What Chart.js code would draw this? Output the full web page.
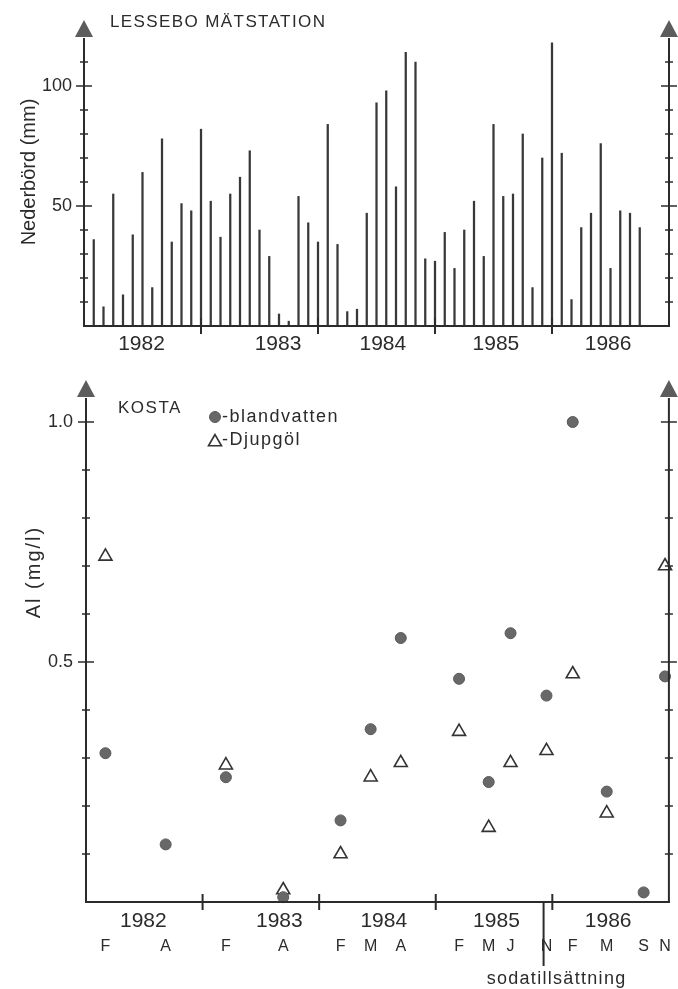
<!DOCTYPE html>
<html lang="sv">
<head>
<meta charset="utf-8">
<title>Lessebo nederbörd / Kosta Al</title>
<script src="https://cdn.jsdelivr.net/npm/chart.js@4.4.1/dist/chart.umd.min.js"></script>
<style>
  html, body { margin: 0; padding: 0; background: #fff; }
  #wrap { position: relative; width: 678px; height: 989px; }
  canvas { position: absolute; left: 0; }
  #rainChart { top: 0; }
  #alChart { top: 360px; }
</style>
</head>
<body>
<div id="wrap">
  <canvas id="rainChart" width="678" height="360"></canvas>
  <canvas id="alChart" width="678" height="629"></canvas>
</div>
<script>
// --- Data ---
const years = ['1982', '1983', '1984', '1985', '1986'];

// Monthly precipitation at Lessebo (mm), Jan 1982 - Sep 1986
const rain1982 = [36, 8, 55, 13, 38, 64, 16, 78, 35, 51, 48, 82];
const rain1983 = [52, 37, 55, 62, 73, 40, 29, 5, 2, 54, 43, 35];
const rain1984 = [84, 34, 6, 7, 47, 93, 98, 58, 114, 110, 28, 27];
const rain1985 = [39, 24, 40, 52, 29, 84, 54, 55, 80, 16, 70, 118];
const rain1986 = [72, 11, 41, 47, 76, 24, 48, 47, 41];

// Kosta samples, time in months counted from Jan 1982
const sampleMonths = [2.0, 8.2, 14.4, 20.3, 26.2, 29.3, 32.4, 38.4, 41.45, 43.7, 47.4, 50.1, 53.6, 57.4, 59.6];
const sampleLabels = ['F', 'A', 'F', 'A', 'F', 'M', 'A', 'F', 'M', 'J', 'N', 'F', 'M', 'S', 'N'];
const blandvatten = [0.31, 0.12, 0.26, 0.01, 0.17, 0.36, 0.55, 0.465, 0.25, 0.56, 0.43, 1.0, 0.23, 0.02, 0.47];
const djupgol = [0.72, null, 0.285, 0.025, 0.10, 0.26, 0.29, 0.355, 0.155, 0.29, 0.315, 0.475, 0.185, null, 0.70];

const sodaMonth = 47.1; // sodatillsättning (early Dec 1985)

// --- Axis layout ---
const yearEnds = [12, 24, 36, 48];
const yearLabelAt = [5.9, 19.9, 30.65, 42.25, 53.75];

const ink = '#2b2b2b';
const fontFamily = '"Liberation Sans", Arial, Helvetica, sans-serif';
Chart.defaults.font.family = fontFamily;
Chart.defaults.color = ink;

// --- Drawing helpers ---
function stroke(ctx, x1, y1, x2, y2) {
    ctx.beginPath();
    ctx.moveTo(x1, y1);
    ctx.lineTo(x2, y2);
    ctx.stroke();
}

function text(ctx, str, x, y, opts = {}) {
    const { size = 17, spacing = 0, align = 'left', rotate = false } = opts;
    ctx.save();
    ctx.font = `${size}px ${fontFamily}`;
    ctx.letterSpacing = spacing + 'px';
    ctx.textAlign = align;
    ctx.textBaseline = 'middle';
    ctx.fillStyle = ink;
    ctx.translate(x, y);
    if (rotate) ctx.rotate(-Math.PI / 2);
    ctx.fillText(str, 0, 0);
    ctx.restore();
}

function marker(ctx, style, x, y, r, fill, line, width) {
    ctx.save();
    ctx.fillStyle = fill;
    ctx.strokeStyle = line;
    ctx.lineWidth = width;
    ctx.beginPath();
    if (style === 'triangle') {
        ctx.moveTo(x, y - r);
        ctx.lineTo(x - r * 0.866, y + r / 2);
        ctx.lineTo(x + r * 0.866, y + r / 2);
        ctx.closePath();
    } else {
        ctx.arc(x, y, r, 0, Math.PI * 2);
    }
    ctx.fill();
    ctx.stroke();
    ctx.restore();
}

// Axes with arrow heads, crossing tick marks and year boundaries
function drawFrame(chart) {
    const { ctx, chartArea: a, scales: { x, y } } = chart;
    ctx.save();
    ctx.strokeStyle = ink;
    ctx.fillStyle = '#5c5c5c';
    ctx.lineWidth = 2;
    stroke(ctx, a.left - 1, a.bottom, a.right + 1, a.bottom);
    for (const px of [a.left, a.right]) {
        ctx.lineWidth = 2;
        stroke(ctx, px, a.bottom + 1, px, a.top);
        ctx.beginPath();
        ctx.moveTo(px, a.top - 18);
        ctx.lineTo(px - 9, a.top - 1);
        ctx.lineTo(px + 9, a.top - 1);
        ctx.closePath();
        ctx.fill();
        ctx.lineWidth = 1.5;
        y.ticks.forEach(t => {
            if (t.value <= 0 || t.value >= y.max - 1e-9) return;
            const py = y.getPixelForValue(t.value);
            const len = t.label !== '' ? 8 : 4;
            stroke(ctx, px - len, py, px + len, py);
        });
    }
    ctx.lineWidth = 2;
    yearEnds.forEach(m => {
        const px = x.getPixelForValue(m);
        stroke(ctx, px, a.bottom - 8, px, a.bottom + 8);
    });
    ctx.restore();
}

// fixed axis sizes, no automatic label padding
const fixSize = (w, h) => (s) => {
    if (w !== null) s.width = w;
    if (h !== null) s.height = h;
    s.paddingLeft = s.paddingRight = s.paddingTop = s.paddingBottom = 0;
};

const noGrid = { display: false, drawTicks: false };
const noBorder = { display: false };

// --- Plugins ---
const rainDecor = {
    id: 'rainDecor',
    afterDraw(chart) {
        drawFrame(chart);
        const ctx = chart.ctx;
        text(ctx, 'LESSEBO MÄTSTATION', 110, 22, { size: 17, spacing: 1.4 });
        text(ctx, 'Nederbörd (mm)', 29, 172, { size: 20, align: 'center', rotate: true });
    }
};

const alDecor = {
    id: 'alDecor',
    afterDraw(chart) {
        drawFrame(chart);
        const { ctx, chartArea: a, scales: { x } } = chart;
        text(ctx, 'Al (mg/l)', 34, 212, { size: 20, spacing: 2, align: 'center', rotate: true });
        text(ctx, 'KOSTA', 118, 48, { size: 17, spacing: 1.5 });

        // legend
        chart.data.datasets.forEach((ds, i) => {
            const cy = 57 + i * 23;
            const dy = ds.pointStyle === 'triangle' ? 2 : 0;
            marker(ctx, ds.pointStyle, 215, cy + dy, ds.pointRadius,
                ds.pointBackgroundColor, ds.pointBorderColor, ds.pointBorderWidth);
            text(ctx, '-' + ds.label, 222, cy, { size: 18, spacing: 1.5 });
        });

        // soda addition marker below the time axis
        const sx = x.getPixelForValue(sodaMonth);
        ctx.save();
        ctx.strokeStyle = ink;
        ctx.lineWidth = 2;
        stroke(ctx, sx, a.bottom, sx, a.bottom + 64);
        ctx.restore();
        text(ctx, 'sodatillsättning', sx + 13, a.bottom + 77, { size: 18, spacing: 1.3, align: 'center' });
    }
};

// --- Precipitation chart ---
const rainData = [rain1982, rain1983, rain1984, rain1985, rain1986]
    .flat()
    .map((v, i) => ({ x: i + 1, y: v })); // bars stand at the end of each month

new Chart(document.getElementById('rainChart'), {
    type: 'bar',
    data: {
        datasets: [{
            label: 'Nederbörd (mm)',
            data: rainData,
            backgroundColor: '#383838',
            borderWidth: 0,
            barThickness: 1.6
        }]
    },
    options: {
        responsive: false,
        animation: false,
        devicePixelRatio: 1,
        events: [],
        layout: { padding: { top: 38, right: 9, bottom: 0, left: 0 } },
        plugins: { legend: { display: false }, tooltip: { enabled: false } },
        scales: {
            x: {
                type: 'linear', min: 0, max: 60, offset: false,
                grid: noGrid, border: noBorder,
                afterBuildTicks: (s) => { s.ticks = yearLabelAt.map(v => ({ value: v })); },
                afterFit: fixSize(null, 34),
                ticks: {
                    autoSkip: false, maxRotation: 0, padding: 6,
                    font: { size: 21 },
                    callback: (v, i) => years[i]
                }
            },
            y: {
                min: 0, max: 120,
                grid: noGrid, border: noBorder,
                afterFit: fixSize(84, null),
                ticks: {
                    stepSize: 10, autoSkip: false, padding: 12,
                    font: { size: 18 },
                    callback: v => (v === 50 || v === 100 ? String(v) : '')
                }
            }
        }
    },
    plugins: [rainDecor]
});

// --- Aluminium chart ---
const toPoints = (values) => sampleMonths
    .map((m, i) => ({ x: m, y: values[i] }))
    .filter(p => p.y !== null);

new Chart(document.getElementById('alChart'), {
    type: 'scatter',
    data: {
        datasets: [{
            label: 'blandvatten',
            data: toPoints(blandvatten),
            pointStyle: 'circle',
            pointRadius: 5.5,
            pointBackgroundColor: '#686868',
            pointBorderColor: '#5a5a5a',
            pointBorderWidth: 1
        }, {
            label: 'Djupgöl',
            data: toPoints(djupgol),
            pointStyle: 'triangle',
            pointRadius: 7.5,
            pointBackgroundColor: '#ffffff',
            pointBorderColor: '#333333',
            pointBorderWidth: 1.6
        }]
    },
    options: {
        responsive: false,
        animation: false,
        devicePixelRatio: 1,
        events: [],
        clip: false,
        layout: { padding: { top: 38, right: 8, bottom: 30, left: 0 } },
        plugins: { legend: { display: false }, tooltip: { enabled: false } },
        scales: {
            x: {
                type: 'linear', position: 'bottom', weight: 0, min: 0, max: 60,
                grid: noGrid, border: noBorder,
                afterBuildTicks: (s) => { s.ticks = yearLabelAt.map(v => ({ value: v })); },
                afterFit: fixSize(null, 30),
                ticks: {
                    autoSkip: false, maxRotation: 0, padding: 7,
                    font: { size: 21 },
                    callback: (v, i) => years[i]
                }
            },
            months: {
                type: 'linear', position: 'bottom', weight: 1, min: 0, max: 60,
                grid: noGrid, border: noBorder,
                afterBuildTicks: (s) => { s.ticks = sampleMonths.map(v => ({ value: v })); },
                afterFit: fixSize(null, 27),
                ticks: {
                    autoSkip: false, maxRotation: 0, padding: 5,
                    font: { size: 16 },
                    callback: (v, i) => sampleLabels[i]
                }
            },
            y: {
                min: 0, max: 1.05,
                grid: noGrid, border: noBorder,
                afterFit: fixSize(86, null),
                ticks: {
                    stepSize: 0.1, autoSkip: false, padding: 13,
                    font: { size: 18 },
                    callback: v => (Math.abs(v - 0.5) < 1e-6 ? '0.5' : Math.abs(v - 1) < 1e-6 ? '1.0' : '')
                }
            }
        }
    },
    plugins: [alDecor]
});
</script>
</body>
</html>
